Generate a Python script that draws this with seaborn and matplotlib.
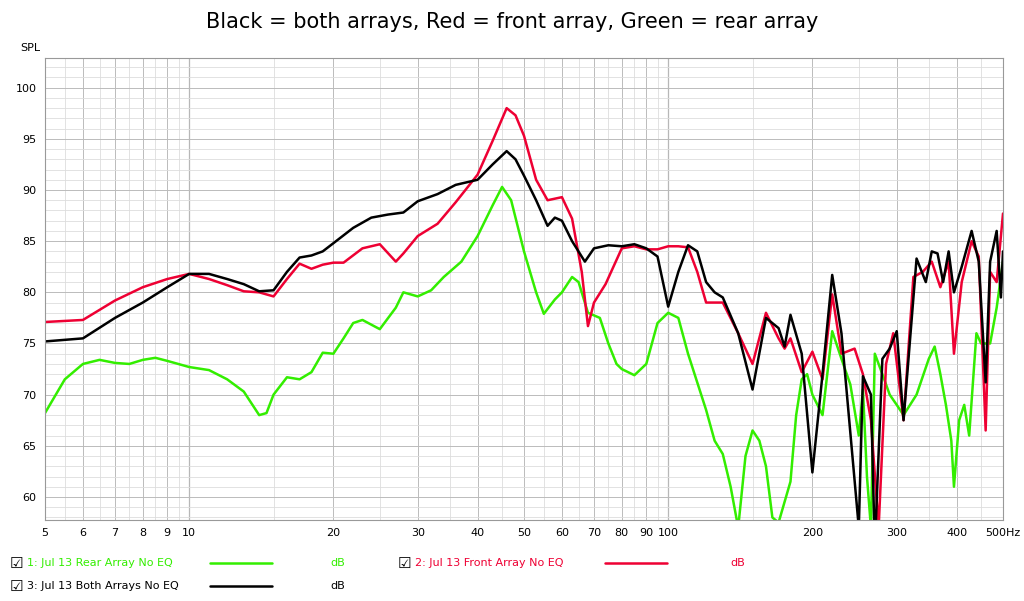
import matplotlib
matplotlib.use("Agg")
import matplotlib.pyplot as plt
import seaborn as sns
import numpy as np
import pandas as pd
from matplotlib.ticker import FixedLocator, NullFormatter, MultipleLocator

black = [(5,75.2),(6,75.5),(7,77.5),(8,79),(9,80.5),(10,81.8),(11,81.8),(12,81.3),(13,80.8),(14,80.1),(15,80.2),(16,82),(17,83.4),(18,83.6),(19,84),(20,84.8),(22,86.3),(24,87.3),(26,87.6),(28,87.8),(30,88.9),(33,89.6),(36,90.5),(40,91),(43,92.5),(46,93.8),(48,93),(50,91.4),(53,89),(56,86.5),(58,87.3),(60,87),(63,85),(67,83),(70,84.3),(75,84.6),(80,84.5),(85,84.7),(90,84.3),(95,83.5),(100,78.6),(105,82),(110,84.6),(115,84),(120,81),(125,80),(130,79.5),(140,76),(150,70.5),(160,77.5),(170,76.5),(175,74.7),(180,77.8),(190,74),(200,62.4),(210,72),(220,81.7),(230,76),(250,57),(255,71.8),(265,70),(270,55),(280,73.5),(290,74.5),(300,76.2),(310,67.5),(330,83.3),(345,81),(355,84),(365,83.8),(375,81),(385,84),(395,80),(410,82.5),(430,86),(445,83),(460,71.2),(470,83),(485,86),(495,79.5),(500,84)]
red = [(5,77.1),(6,77.3),(7,79.2),(8,80.5),(9,81.3),(10,81.8),(11,81.3),(12,80.7),(13,80.1),(14,80),(15,79.6),(16,81.3),(17,82.8),(18,82.3),(19,82.7),(20,82.9),(21,82.9),(23,84.3),(25,84.7),(27,83),(28,83.8),(30,85.5),(33,86.7),(36,88.8),(40,91.5),(43,94.8),(46,98),(48,97.3),(50,95.3),(53,91),(56,89),(60,89.3),(63,87.2),(66,82),(68,76.7),(70,79),(74,80.8),(80,84.3),(85,84.5),(90,84.2),(95,84.2),(100,84.5),(105,84.5),(110,84.4),(115,82),(120,79),(125,79),(130,79),(140,76),(150,73),(160,78),(170,75.5),(175,74.5),(180,75.5),(190,72.2),(200,74.2),(210,71.5),(220,79.8),(230,74),(245,74.5),(255,72),(265,67.5),(275,57),(285,73),(295,76),(310,67.5),(325,81.5),(340,82),(355,83),(370,80.5),(385,83),(395,74),(410,81),(430,85),(445,83.5),(460,66.5),(470,82),(485,81),(500,87.7)]
green = [(5,68.2),(5.5,71.5),(6,73),(6.5,73.4),(7,73.1),(7.5,73),(8,73.4),(8.5,73.6),(9,73.3),(10,72.7),(11,72.4),(12,71.5),(13,70.3),(14,68),(14.5,68.2),(15,70),(16,71.7),(17,71.5),(18,72.2),(19,74.1),(20,74),(21,75.5),(22,77),(23,77.3),(25,76.4),(27,78.5),(28,80),(30,79.6),(32,80.2),(34,81.5),(37,83),(40,85.5),(43,88.5),(45,90.3),(47,89),(50,84),(53,80),(55,77.9),(58,79.3),(60,80),(63,81.5),(65,81),(68,78),(72,77.5),(75,75),(78,73),(80,72.5),(85,71.9),(90,73),(95,77),(100,78),(105,77.5),(110,74),(120,68.5),(125,65.5),(130,64.2),(135,61),(140,57),(145,64),(150,66.5),(155,65.5),(160,63),(165,58),(170,57.5),(180,61.5),(185,68),(190,71.5),(195,72),(200,70),(210,68),(220,76.2),(230,73.5),(240,71),(250,66),(255,70.5),(260,62),(265,57),(270,74),(280,72),(290,70),(300,69),(310,68),(330,70),(350,73.5),(360,74.7),(370,72),(380,69),(390,65.5),(395,61),(405,67.5),(415,69),(425,66),(440,76),(450,75),(470,75),(485,78.5),(500,83)]

xticks = [5,6,7,8,9,10,20,30,40,50,60,70,80,90,100,200,300,400,500]
xlabels = ["5","6","7","8","9","10","20","30","40","50","60","70","80","90","100","200","300","400","500Hz"]
yticks = [60,65,70,75,80,85,90,95,100]

sns.set_style("white")
plt.rcParams['font.family'] = ['DejaVu Sans']
fig = plt.figure(figsize=(10.24,6.01), dpi=100)
ax = fig.add_axes([45/1024, 1-520/601, 958/1024, 462/601])

for data, col in [(green,"#33ee00"),(red,"#ee0033"),(black,"#000000")]:
    df = pd.DataFrame(data, columns=["f","db"])
    sns.lineplot(data=df, x="f", y="db", ax=ax, color=col, lw=1.8, sort=False)

ax.set_xscale("log")
ax.set_xlim(5,500)
ax.set_ylim(57.75,102.9)
minor = [m*10**e for e in range(0,3) for m in np.arange(1,10,0.5)]
ax.xaxis.set_minor_locator(FixedLocator([v for v in minor if 5<=v<=500]))
ax.xaxis.set_minor_formatter(NullFormatter())
ax.set_xticks(xticks); ax.set_xticklabels(xlabels, fontsize=8)
ax.set_yticks(yticks); ax.set_yticklabels([str(v) for v in yticks], fontsize=8)
ax.yaxis.set_minor_locator(MultipleLocator(1))
ax.grid(which="minor", color="#dddddd", lw=0.6)
ax.grid(which="major", color="#bbbbbb", lw=0.7)
for v in [10,100]:
    ax.axvline(v, color="#555555", lw=0.8, zorder=0.5)
ax.tick_params(length=0, pad=6, colors="black")
ax.set_xlabel(""); ax.set_ylabel("")
for s in ax.spines.values():
    s.set_color("#999999")
fig.text(30/1024, 1-48/601, "SPL", fontsize=8, ha="center", va="center", color="black")
fig.text(0.5, 1-22/601, "Black = both arrays, Red = front array, Green = rear array", fontsize=15, ha="center", va="center", color="black")

legend = [(10,563,"1: Jul 13 Rear Array No EQ","#33ee00",210,330),
          (398,563,"2: Jul 13 Front Array No EQ","#ee0033",605,730),
          (10,586,"3: Jul 13 Both Arrays No EQ","#000000",210,330)]
for x,y,txt,col,lx,dx in legend:
    fig.text(x/1024,1-y/601,"☑",fontsize=11,va="center",color="black")
    fig.text((x+17)/1024,1-y/601,txt,fontsize=8,color=col,va="center")
    fig.add_artist(plt.Line2D([lx/1024,(lx+62)/1024],[1-y/601,1-y/601],color=col,lw=1.8))
    fig.text(dx/1024,1-y/601,"dB",fontsize=8,color=col,va="center")
fig.savefig("out.png", dpi=100)
